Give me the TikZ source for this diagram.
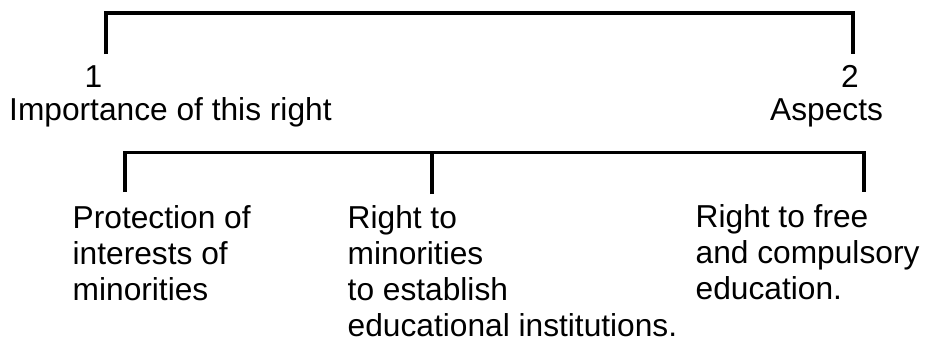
\documentclass[tikz,border=0pt]{standalone}
\usepackage{fontspec}
\setmainfont{Liberation Sans}
\begin{document}
\begin{tikzpicture}[x=1pt,y=-1pt,
    bracket/.style={line width=3.4pt},
    txt/.style={inner sep=0pt,font=\fontsize{31.7}{36}\selectfont},
    para/.style={txt,align=left,anchor=base west}]
        \useasboundingbox (0,0) rectangle (927,341);
        \node[txt,anchor=base] (one) at (93.5,87) {1};
        \node[txt,anchor=base] (two) at (850,87) {2};
        \node[txt,anchor=base west] (importance) at (9,120) {Importance of this right};
        \node[txt,anchor=base west] (aspects) at (770,120) {Aspects};
        \node[para] (protection) at (72.5,300) {Protection of\\interests of\\minorities};
        \node[para] (establish) at (347.5,336) {Right to\\minorities\\to establish\\educational institutions.};
        \node[para] (free) at (695.5,299) {Right to free\\and compulsory\\education.};
        \coordinate (topleft) at (106,54);
        \coordinate (topright) at (853,54);
        \draw[bracket] (topleft) -- (106,13) -- (853,13) -- (topright);
        \coordinate (lowleft) at (125,192);
        \coordinate (lowmid) at (432,194);
        \coordinate (lowright) at (864,192);
        \draw[bracket] (lowleft) -- (125,152.5) -- (864,152.5) -- (lowright);
        \draw[bracket] (lowmid) -- (432,152.5);
      \end{tikzpicture}
\end{document}
